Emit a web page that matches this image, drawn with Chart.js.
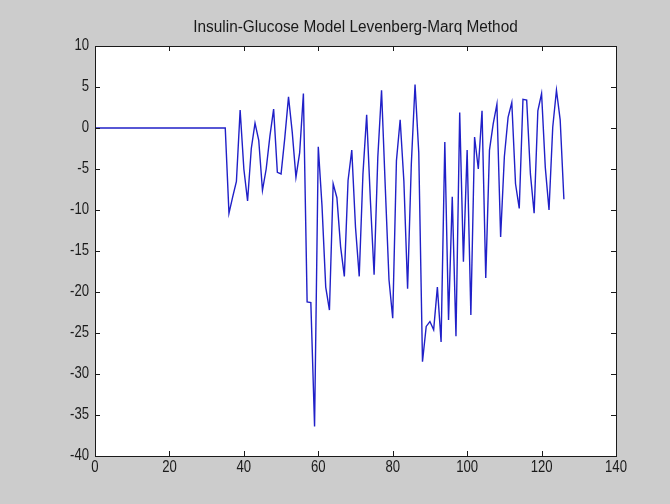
<!DOCTYPE html>
<html>
<head>
<meta charset="utf-8">
<script src="https://cdn.jsdelivr.net/npm/chart.js@4"></script>
<style>
  body { margin: 0; background: #cccccc; }
  #chart { display: block; }
</style>
</head>
<body>
<canvas id="chart" width="670" height="504"></canvas>
<script>
const ctx = document.getElementById("chart");

const FONT = "16px 'Liberation Sans', Arial, sans-serif";
const TITLE = 'Insulin-Glucose Model Levenberg-Marq Method';

// sample time and model error
const sampleTimes = [
  0, 1, 2, 3, 4, 5, 6, 7, 8, 9, 10, 11, 12, 13, 14, 15, 16, 17, 18, 19,
  20, 21, 22, 23, 24, 25, 26, 27, 28, 29, 30, 31, 32, 33, 34, 35, 36, 37, 38, 39,
  40, 41, 42, 43, 44, 45, 46, 47, 48, 49, 50, 51, 52, 53, 54, 55, 56, 57, 58, 59,
  60, 61, 62, 63, 64, 65, 66, 67, 68, 69, 70, 71, 72, 73, 74, 75, 76, 77, 78, 79,
  80, 81, 82, 83, 84, 85, 86, 87, 88, 89, 90, 91, 92, 93, 94, 95, 96, 97, 98, 99,
  100, 101, 102, 103, 104, 105, 106, 107, 108, 109, 110, 111, 112, 113, 114, 115, 116, 117, 118, 119,
  120, 121, 122, 123, 124, 125, 126
];
const modelError = [
  0, 0, 0, 0, 0, 0, 0, 0, 0, 0, 0, 0, 0, 0, 0, 0, 0, 0, 0, 0,
  0, 0, 0, 0, 0, 0, 0, 0, 0, 0, 0, 0, 0, 0, 0, 0, -10.4, -8.4, -6.5, 2.2,
  -5.0, -8.9, -2.5, 0.6, -1.5, -7.6, -5.0, -1.0, 2.3, -5.4, -5.6, -1.2, 3.8, -0.5, -6.0, -3.0, 4.2, -21.2, -21.3, -36.4,
  -2.3, -9.5, -19.4, -22.2, -6.8, -8.5, -14.5, -18.1, -6.4, -2.7, -12.1, -18.1, -5.6, 1.6, -8.8, -17.9, -3.5, 4.6, -7.2, -18.5,
  -23.2, -4.0, 1.0, -6.5, -19.6, -4.4, 5.3, -3.0, -28.5, -24.2, -23.6, -24.6, -19.4, -26.1, -1.7, -23.4, -8.4, -25.4, 1.9, -16.3,
  -2.7, -22.8, -1.1, -5.0, 2.1, -18.3, -2.7, 0.5, 2.9, -13.3, -3.5, 1.3, 3.1, -6.8, -9.8, 3.5, 3.4, -5.6, -10.4, 2.1,
  4.2, -4.8, -10.0, 0.1, 4.6, 1.0, -8.7
];

const xTicks = [0, 20, 40, 60, 80, 100, 120, 140];
const yTicks = [-40, -35, -30, -25, -20, -15, -10, -5, 0, 5, 10];

const points = sampleTimes.map((t, i) => ({ x: t, y: modelError[i] }));

// text drawn a bit narrow, like the old figure window font
function narrowText(c, text, x, y, align, sx) {
  c.save();
  c.translate(x, y);
  c.scale(sx, 1);
  c.font = FONT;
  c.fillStyle = '#1a1a1a';
  c.textAlign = align;
  c.textBaseline = 'middle';
  c.fillText(text, 0, 0);
  c.restore();
}

// white axes box, inward ticks on all four sides, labels and title
const axesBox = {
  id: 'axesBox',
  beforeDatasetsDraw(chart) {
    const a = chart.chartArea;
    const c = chart.ctx;
    c.save();
    c.fillStyle = '#ffffff';
    c.fillRect(a.left, a.top, a.right - a.left, a.bottom - a.top);
    c.restore();
  },
  afterDatasetsDraw(chart) {
    const a = chart.chartArea;
    const c = chart.ctx;
    const xs = chart.scales.x;
    const ys = chart.scales.y;
    const len = 5;
    c.save();
    c.strokeStyle = '#1a1a1a';
    c.lineWidth = 1;
    c.beginPath();
    for (const v of xTicks) {
      const px = Math.round(xs.getPixelForValue(v)) + 0.5;
      c.moveTo(px, a.bottom); c.lineTo(px, a.bottom - len);
      c.moveTo(px, a.top); c.lineTo(px, a.top + len);
    }
    for (const v of yTicks) {
      const py = Math.round(ys.getPixelForValue(v)) + 0.5;
      c.moveTo(a.left, py); c.lineTo(a.left + len, py);
      c.moveTo(a.right, py); c.lineTo(a.right - len, py);
    }
    c.stroke();
    c.strokeRect(Math.round(a.left) + 0.5, Math.round(a.top) + 0.5,
      Math.round(a.right - a.left), Math.round(a.bottom - a.top));
    c.restore();

    for (const v of xTicks) {
      narrowText(c, String(v), xs.getPixelForValue(v), a.bottom + 12, 'center', 0.82);
    }
    for (const v of yTicks) {
      narrowText(c, String(v), a.left - 6, ys.getPixelForValue(v), 'right', 0.82);
    }
    narrowText(c, TITLE, (a.left + a.right) / 2, 28, 'center', 0.96);
  }
};

let mainChart = new Chart(ctx, {
  type: 'line',
  data: {
    datasets: [{
      data: points,
      borderColor: '#2020c8',
      borderWidth: 1.4,
      pointRadius: 0,
      tension: 0,
      fill: false
    }]
  },
  options: {
    responsive: false,
    animation: false,
    devicePixelRatio: 1,
    layout: {
      padding: { left: 0, right: 54, top: 46, bottom: 0 }
    },
    plugins: {
      legend: { display: false },
      tooltip: { enabled: false },
      title: { display: false }
    },
    scales: {
      x: {
        type: 'linear',
        min: 0,
        max: 140,
        afterFit(scale) { scale.height = 48; },
        grid: { display: false, drawTicks: false },
        border: { display: false },
        ticks: { display: false }
      },
      y: {
        type: 'linear',
        min: -40,
        max: 10,
        afterFit(scale) { scale.width = 95; },
        grid: { display: false, drawTicks: false },
        border: { display: false },
        ticks: { display: false }
      }
    }
  },
  plugins: [axesBox]
});
</script>
</body>
</html>
